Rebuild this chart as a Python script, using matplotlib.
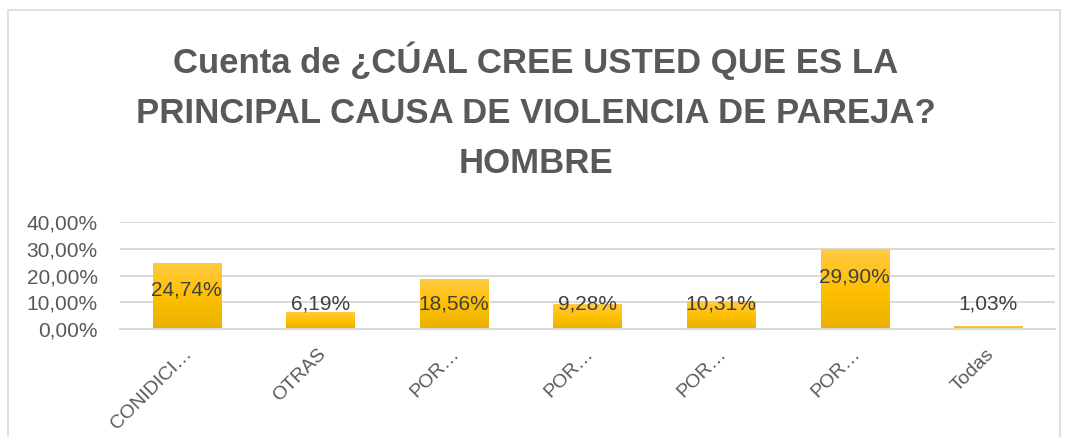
import numpy as np
import matplotlib.pyplot as plt
import matplotlib.transforms as mtransforms
from matplotlib.patches import Rectangle
from matplotlib.ticker import FuncFormatter

# datos
categorias = ["CONIDICI…", "OTRAS", "POR…", "POR…", "POR…", "POR…", "Todas"]
porcentajes = [24.74, 6.19, 18.56, 9.28, 10.31, 29.90, 1.03]
etiquetas = ["24,74%", "6,19%", "18,56%", "9,28%", "10,31%", "29,90%", "1,03%"]
ticks_y = [0, 10, 20, 30, 40]

titulo = "Cuenta de ¿CÚAL CREE USTED QUE ES LA\nPRINCIPAL CAUSA DE VIOLENCIA DE PAREJA?\nHOMBRE"

# posicion vertical de las etiquetas (en % del eje)
pos_etiquetas = [14.6, 9.4, 9.4, 9.4, 9.4, 19.4, 9.4]

gris = "#595959"
fuente = ["Liberation Sans", "DejaVu Sans"]

fig = plt.figure(figsize=(10.72, 4.37), dpi=100)
ax = fig.add_axes([120 / 1072, 1 - 329 / 437, 935 / 1072, 107 / 437])

x = np.arange(len(categorias))
ancho = 0.51

# barras con degradado
grad = np.linspace(0, 1, 256).reshape(-1, 1)
cmap = plt.matplotlib.colors.LinearSegmentedColormap.from_list(
    "amarillo", ["#E8B100", "#FFC000", "#FFCA45"])
for xi, v in zip(x, porcentajes):
    r = Rectangle((xi - ancho / 2, 0), ancho, v, facecolor="none", edgecolor="none")
    ax.add_patch(r)
    im = ax.imshow(grad, extent=(xi - ancho / 2, xi + ancho / 2, 0, v),
                   origin="lower", cmap=cmap, aspect="auto", zorder=2)
    im.set_clip_path(r)

for xi, yl, txt in zip(x, pos_etiquetas, etiquetas):
    ax.text(xi, yl, txt, ha="center", va="center", fontsize=15,
            color="#404040", family=fuente, zorder=4)

ax.set_xlim(-0.5, len(categorias) - 0.5)
ax.set_ylim(0, 40)
ax.set_yticks(ticks_y)
ax.yaxis.set_major_formatter(FuncFormatter(lambda v, p: f"{v:.2f}%".replace(".", ",")))
ax.grid(axis="y", color="#D9D9D9", linewidth=1.4, zorder=0)
ax.set_axisbelow(True)
for s in ["top", "right", "left"]:
    ax.spines[s].set_visible(False)
ax.spines["bottom"].set_color("#D9D9D9")
ax.spines["bottom"].set_linewidth(1.4)
ax.tick_params(axis="both", length=0, colors=gris, labelsize=15)
ax.tick_params(axis="y", pad=16)
for lab in ax.get_yticklabels():
    lab.set_family(fuente)

ax.set_xticks(x)
ax.set_xticklabels(categorias, rotation=45, ha="right", va="center",
                   rotation_mode="anchor", family=fuente, fontsize=14, color=gris)
ax.tick_params(axis="x", pad=16)
desplazo = mtransforms.ScaledTranslation(3 / 100, 0, fig.dpi_scale_trans)
for lab in ax.get_xticklabels():
    lab.set_transform(lab.get_transform() + desplazo)

fig.text(0.5, 1 - 111 / 437, titulo, ha="center", va="center", fontsize=25,
         fontweight="bold", color=gris, family=fuente, linespacing=1.65)

# marco del grafico
fig.patches.append(Rectangle((8 / 1072, -0.05), 1052 / 1072, 1 - 10 / 437 + 0.05,
                             transform=fig.transFigure, fill=False,
                             edgecolor="#D9D9D9", linewidth=1.2))

fig.savefig("out.png", dpi=100)
